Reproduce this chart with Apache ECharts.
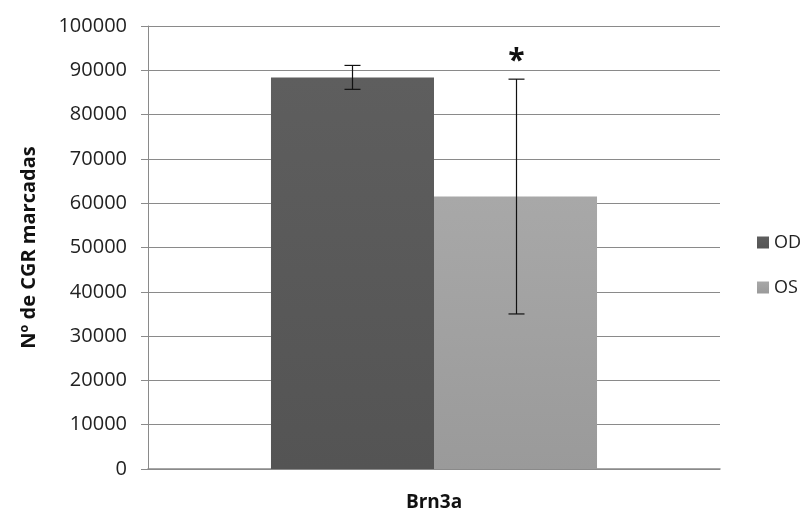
<!DOCTYPE html>
<html>
<head>
<meta charset="utf-8">
<script src="https://cdn.jsdelivr.net/npm/echarts@6/dist/echarts.min.js"></script>
<style>
  html, body { margin: 0; padding: 0; background: #fff; }
  #chart { width: 806px; height: 512px; }
</style>
</head>
<body>
<div id="chart"></div>
<script>
// Data
const categories = ['Brn3a'];
const seriesNames = ['OD', 'OS'];
const meanOD = [88400];
const meanOS = [61500];
const errOD = [2700];
const errOS = [26500];
const significance = ['', '*'];   // marker above each group's error bar
const yTicks = { min: 0, max: 100000, interval: 10000 };

const FONT = '"Open Sans", "Noto Sans", sans-serif';
const BAR_FRAC = 0.285;   // bar width as fraction of the category band

function grad(top, bottom) {
  return new echarts.graphic.LinearGradient(0, 0, 0, 1, [
    { offset: 0, color: top }, { offset: 1, color: bottom }
  ]);
}

// error bar + optional marker for one series; side = -1 (left bar) or +1 (right bar)
function errorRenderer(means, errs, side, mark) {
  return function (params, api) {
    const i = params.dataIndex;
    const band = api.size([1, 0])[0];
    const dx = side * band * BAR_FRAC / 2;
    const hi = api.coord([i, means[i] + errs[i]]);
    const lo = api.coord([i, means[i] - errs[i]]);
    const x = Math.round(hi[0] + dx) + 0.5;
    const cap = 8;
    const style = { stroke: '#111', lineWidth: 1.2 };
    const children = [
      { type: 'line', shape: { x1: x, y1: hi[1], x2: x, y2: lo[1] }, style },
      { type: 'line', shape: { x1: x - cap, y1: hi[1], x2: x + cap, y2: hi[1] }, style },
      { type: 'line', shape: { x1: x - cap, y1: lo[1], x2: x + cap, y2: lo[1] }, style }
    ];
    if (mark) {
      children.push({
        type: 'text',
        style: {
          text: mark, x: x, y: hi[1] - 18,
          align: 'center', verticalAlign: 'middle',
          font: 'bold 30px ' + FONT, fill: '#111'
        }
      });
    }
    return { type: 'group', children };
  };
}

const chart = echarts.init(document.getElementById('chart'), null, { renderer: 'canvas' });
chart.setOption({
  animation: false,
  backgroundColor: '#fff',
  grid: { left: 148, right: 86, top: 26, bottom: 43, containLabel: false, outerBoundsMode: 'none' },
  legend: {
    orient: 'vertical',
    left: 757, top: 232,
    padding: 0,
    itemWidth: 12, itemHeight: 12, itemGap: 24,
    icon: 'rect',
    data: seriesNames,
    textStyle: { fontFamily: FONT, fontSize: 18, color: '#222', lineHeight: 21 }
  },
  xAxis: {
    type: 'category',
    data: categories,
    name: categories[0],
    nameLocation: 'middle',
    nameGap: 24,
    nameTextStyle: { fontFamily: FONT, fontSize: 19, fontWeight: 'bold', color: '#111' },
    axisLine: { lineStyle: { color: '#8a8a8a', width: 1.5 } },
    axisTick: { show: false },
    axisLabel: { show: false }
  },
  yAxis: {
    type: 'value',
    min: yTicks.min, max: yTicks.max, interval: yTicks.interval,
    name: 'Nº de CGR marcadas',
    nameLocation: 'middle',
    nameGap: 109,
    nameTextStyle: { fontFamily: FONT, fontSize: 20, fontWeight: 'bold', color: '#111' },
    axisLine: { show: true, lineStyle: { color: '#8a8a8a', width: 1 } },
    axisTick: { show: true, length: 7, lineStyle: { color: '#8a8a8a' } },
    axisLabel: { fontFamily: FONT, fontSize: 20, color: '#222', margin: 21, formatter: v => String(v) },
    splitLine: { lineStyle: { color: '#8a8a8a', width: 1 } }
  },
  series: [
    {
      name: seriesNames[0], type: 'bar', data: meanOD,
      barWidth: (BAR_FRAC * 100) + '%', barGap: '0%',
      itemStyle: { color: grad('#5e5e5e', '#545454') }
    },
    {
      name: seriesNames[1], type: 'bar', data: meanOS,
      barWidth: (BAR_FRAC * 100) + '%', barGap: '0%',
      itemStyle: { color: grad('#a8a8a8', '#9a9a9a') }
    },
    {
      type: 'custom', data: meanOD, z: 5,
      renderItem: errorRenderer(meanOD, errOD, -1, significance[0])
    },
    {
      type: 'custom', data: meanOS, z: 5,
      renderItem: errorRenderer(meanOS, errOS, 1, significance[1])
    }
  ]
});
</script>
</body>
</html>
